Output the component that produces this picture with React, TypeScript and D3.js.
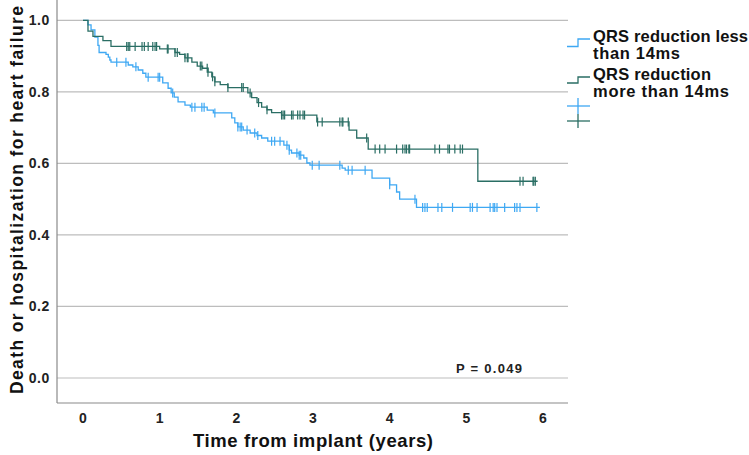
import * as d3 from "d3"
import { useRef, useEffect } from "react"

// step drops: [time in years, survival after the drop]
const lessSteps: [number, number][] = [
  [0, 1.0], [0.065, 0.987], [0.105, 0.973], [0.155, 0.953], [0.195, 0.93], [0.21, 0.91],
  [0.3, 0.905], [0.33, 0.897], [0.35, 0.889], [0.365, 0.883], [0.59, 0.875], [0.65, 0.87],
  [0.72, 0.861], [0.78, 0.852], [0.82, 0.841], [1.04, 0.825], [1.11, 0.81], [1.15, 0.797],
  [1.19, 0.785], [1.24, 0.772], [1.33, 0.763], [1.4, 0.757], [1.62, 0.749], [1.7, 0.741],
  [1.94, 0.727], [1.98, 0.713], [2.02, 0.702], [2.09, 0.693], [2.18, 0.685], [2.27, 0.678],
  [2.33, 0.671], [2.41, 0.662], [2.62, 0.651], [2.69, 0.637], [2.72, 0.629], [2.82, 0.623],
  [2.88, 0.615], [2.92, 0.601], [2.96, 0.595], [3.38, 0.587], [3.42, 0.581], [3.77, 0.559],
  [4.0, 0.54], [4.09, 0.52], [4.13, 0.5], [4.35, 0.477],
]
const lessEnd = 5.96
const lessCensored = [
  0.44, 0.56, 0.69, 0.85, 0.98, 1.0, 1.17, 1.42, 1.46, 1.55, 1.58, 1.72, 2.02, 2.05, 2.07,
  2.14, 2.24, 2.28, 2.46, 2.5, 2.57, 2.66, 2.69, 2.79, 2.82, 2.84, 2.99, 3.08, 3.35, 3.46,
  3.51, 3.68, 4.0, 4.33, 4.43, 4.46, 4.49, 4.63, 4.68, 4.82, 5.05, 5.08, 5.14, 5.31, 5.35,
  5.37, 5.4, 5.5, 5.63, 5.66, 5.7, 5.92,
]

const moreSteps: [number, number][] = [
  [0, 1.0], [0.065, 0.97], [0.13, 0.955], [0.26, 0.943], [0.365, 0.927], [1.0, 0.92],
  [1.2, 0.91], [1.26, 0.905], [1.33, 0.895], [1.42, 0.883], [1.49, 0.872], [1.56, 0.866],
  [1.63, 0.855], [1.68, 0.842], [1.72, 0.828], [1.79, 0.82], [1.89, 0.812], [2.15, 0.797],
  [2.2, 0.784], [2.27, 0.77], [2.33, 0.757], [2.4, 0.75], [2.46, 0.742], [2.59, 0.735],
  [3.05, 0.716], [3.47, 0.693], [3.57, 0.671], [3.72, 0.64], [5.15, 0.55],
]
const moreEnd = 5.93
const moreCensored = [
  0.57, 0.59, 0.61, 0.68, 0.77, 0.8, 0.85, 0.91, 0.94, 0.96, 1.1, 1.11, 1.2, 1.23, 1.33,
  1.36, 1.37, 1.53, 1.55, 1.62, 1.63, 1.69, 1.72, 1.89, 2.07, 2.09, 2.18, 2.29, 2.4, 2.59,
  2.61, 2.63, 2.72, 2.74, 2.8, 2.83, 2.87, 2.89, 3.06, 3.12, 3.35, 3.38, 3.39, 3.46, 3.7,
  3.81, 3.87, 3.94, 4.09, 4.17, 4.2, 4.22, 4.25, 4.26, 4.59, 4.65, 4.76, 4.78, 4.85, 4.92,
  4.95, 5.7, 5.74, 5.87, 5.88, 5.9,
]

const xTicks = [0, 1, 2, 3, 4, 5, 6]
const yTicks = [0, 0.2, 0.4, 0.6, 0.8, 1.0]
const legendLabels = [["QRS reduction less", "than 14ms"], ["QRS reduction", "more than 14ms"]]

const BLUE = "#3ea8f3"
const DARK = "#2a6e64"
const FONT = "'Liberation Sans', Arial, sans-serif"

export default function App() {
  const svgRef = useRef<SVGSVGElement>(null)

  useEffect(() => {
    const svg = d3.select(svgRef.current)
    svg.selectAll("*").remove()

    const x = d3.scaleLinear().domain([0, 6]).range([83, 543])
    const y = d3.scaleLinear().domain([0, 1]).range([378, 20.3])
    const left = 57
    const right = 568
    const bottom = 403

    // gridlines
    svg
      .append("g")
      .selectAll("line")
      .data(yTicks)
      .join("line")
      .attr("x1", left)
      .attr("x2", right)
      .attr("y1", (d) => y(d))
      .attr("y2", (d) => y(d))
      .attr("stroke", "#bdbdbd")
      .attr("stroke-width", 1.2)

    // axes frame
    svg.append("line").attr("x1", left).attr("x2", left).attr("y1", 0).attr("y2", bottom)
      .attr("stroke", "#8a8a8a").attr("stroke-width", 1.2)
    svg.append("line").attr("x1", left).attr("x2", right).attr("y1", bottom).attr("y2", bottom)
      .attr("stroke", "#8a8a8a").attr("stroke-width", 1.2)

    svg
      .append("g")
      .selectAll("text")
      .data(yTicks)
      .join("text")
      .attr("x", 50)
      .attr("y", (d) => y(d) + 5)
      .attr("text-anchor", "end")
      .attr("font-family", FONT)
      .attr("font-weight", "bold")
      .attr("font-size", 14)
      .attr("letter-spacing", 0.6)
      .attr("fill", "#222")
      .text((d) => d.toFixed(1))

    svg
      .append("g")
      .selectAll("text")
      .data(xTicks)
      .join("text")
      .attr("x", (d) => x(d))
      .attr("y", 423)
      .attr("text-anchor", "middle")
      .attr("font-family", FONT)
      .attr("font-weight", "bold")
      .attr("font-size", 14)
      .attr("fill", "#222")
      .text((d) => d)

    svg.append("text")
      .attr("transform", "translate(23,200) rotate(-90)")
      .attr("text-anchor", "middle")
      .attr("font-family", FONT)
      .attr("font-weight", "bold")
      .attr("font-size", 17.5)
      .attr("textLength", 388)
      .attr("lengthAdjust", "spacing")
      .attr("fill", "#111")
      .text("Death or hospitalization for heart failure")

    svg.append("text")
      .attr("x", 313)
      .attr("y", 447)
      .attr("text-anchor", "middle")
      .attr("font-family", FONT)
      .attr("font-weight", "bold")
      .attr("font-size", 18.5)
      .attr("textLength", 240)
      .attr("lengthAdjust", "spacing")
      .attr("fill", "#111")
      .text("Time from implant (years)")

    svg.append("text")
      .attr("x", 456)
      .attr("y", 373)
      .attr("font-family", FONT)
      .attr("font-weight", "bold")
      .attr("font-size", 13)
      .attr("textLength", 66)
      .attr("lengthAdjust", "spacing")
      .attr("fill", "#222")
      .text("P = 0.049")

    const line = d3
      .line<[number, number]>()
      .x((d) => x(d[0]))
      .y((d) => y(d[1]))
      .curve(d3.curveStepAfter)

    const survAt = (steps: [number, number][], t: number) => {
      let s = steps[0][1]
      for (const [tt, v] of steps) if (tt <= t) s = v
      return s
    }

    const groups: [[number, number][], number, number[], string][] = [
      [lessSteps, lessEnd, lessCensored, BLUE],
      [moreSteps, moreEnd, moreCensored, DARK],
    ]
    groups.forEach(([steps, end, cens, color]) => {
      const pts: [number, number][] = [...steps, [end, steps[steps.length - 1][1]]]
      svg.append("path")
        .attr("d", line(pts))
        .attr("fill", "none")
        .attr("stroke", color)
        .attr("stroke-width", 1.3)
      svg.append("g")
        .selectAll("line")
        .data(cens)
        .join("line")
        .attr("x1", (d) => x(d))
        .attr("x2", (d) => x(d))
        .attr("y1", (d) => y(survAt(steps, d)) - 4.5)
        .attr("y2", (d) => y(survAt(steps, d)) + 4.5)
        .attr("stroke", color)
        .attr("stroke-width", 1.2)
    })

    // legend
    const lg = svg.append("g")
    lg.append("path").attr("d", "M567,46.5H578V39H590").attr("fill", "none").attr("stroke", BLUE).attr("stroke-width", 1.3)
    lg.append("path").attr("d", "M567,83H578V77H590").attr("fill", "none").attr("stroke", DARK).attr("stroke-width", 1.3)
    lg.append("line").attr("x1", 567).attr("x2", 590).attr("y1", 106).attr("y2", 106).attr("stroke", BLUE).attr("stroke-width", 1.3)
    lg.append("line").attr("x1", 578).attr("x2", 578).attr("y1", 98).attr("y2", 114).attr("stroke", BLUE).attr("stroke-width", 1.3)
    lg.append("line").attr("x1", 567).attr("x2", 590).attr("y1", 121).attr("y2", 121).attr("stroke", DARK).attr("stroke-width", 1.3)
    lg.append("line").attr("x1", 578).attr("x2", 578).attr("y1", 114).attr("y2", 128).attr("stroke", DARK).attr("stroke-width", 1.3)
    const baselines = [[42, 59], [80, 97]]
    const lengths = [[155, 87], [118, 136]]
    legendLabels.forEach((lines, i) => {
      lines.forEach((txt, j) => {
        lg.append("text")
          .attr("x", 593)
          .attr("y", baselines[i][j])
          .attr("font-family", FONT)
          .attr("font-weight", "bold")
          .attr("font-size", 16.5)
          .attr("textLength", lengths[i][j])
          .attr("lengthAdjust", "spacing")
          .attr("fill", "#111")
          .text(txt)
      })
    })
  }, [])

  return (
    <svg
      ref={svgRef}
      width={749}
      height={455}
      style={{ position: "absolute", left: 0, top: 0, background: "#fff" }}
    />
  )
}
